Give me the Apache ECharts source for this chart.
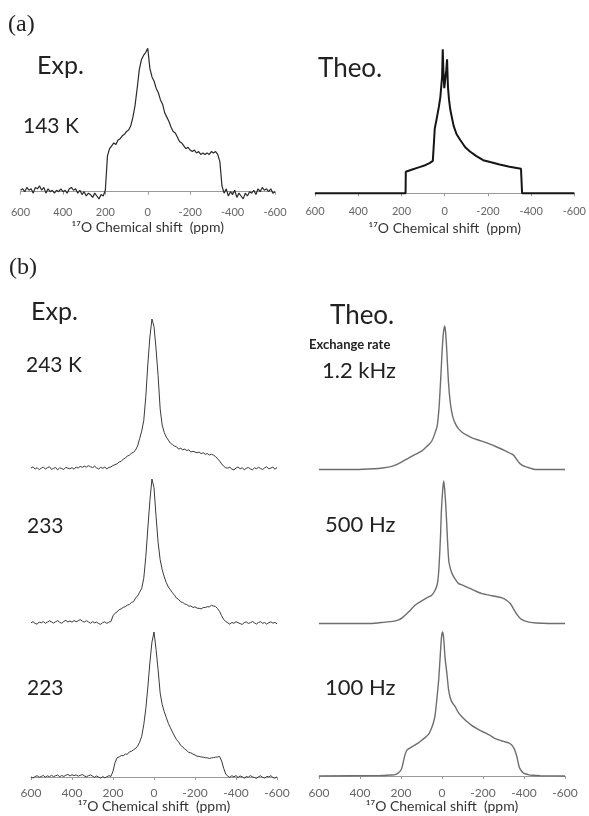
<!DOCTYPE html>
<html>
<head>
<meta charset="utf-8">
<script src="https://cdn.jsdelivr.net/npm/echarts@6/dist/echarts.min.js"></script>
<style>
  html, body { margin: 0; padding: 0; background: #fff; }
  #chart { width: 589px; height: 816px; }
</style>
</head>
<body>
<div id="chart"></div>
<script>
// chemical shift grid (ppm) for the experimental spectra
const PPM = [
  600, 590, 580, 570, 560, 550, 540, 530, 520, 510,
  500, 490, 480, 470, 460, 450, 440, 430, 420, 410,
  400, 390, 380, 370, 360, 350, 340, 330, 320, 310,
  300, 290, 280, 270, 260, 250, 240, 230, 220, 210,
  200, 190, 180, 170, 160, 150, 140, 130, 120, 110,
  100, 90, 80, 70, 60, 50, 40, 30, 20, 10,
  0, -10, -20, -30, -40, -50, -60, -70, -80, -90,
  -100, -110, -120, -130, -140, -150, -160, -170, -180, -190,
  -200, -210, -220, -230, -240, -250, -260, -270, -280, -290,
  -300, -310, -320, -330, -340, -350, -360, -370, -380, -390,
  -400, -410, -420, -430, -440, -450, -460, -470, -480, -490,
  -500, -510, -520, -530, -540, -550, -560, -570, -580, -590,
  -600
]

// experimental intensities (peak = 100)
const EXP_143 = [
  1, 2, 0, 3, 1, 2, -1, 3, 2, 4,
  1, 3, -1, 2, 0, 1, -1, 1, 0, 2,
  0, 1, -1, 2, 3, 1, 2, -1, 1, -2,
  0, -3, -1, -2, -4, -1, -3, -5, -2, -3,
  1, 25, 30, 32, 34, 33, 36, 37, 39, 40,
  42, 43, 46, 52, 60, 72, 85, 92, 95, 97,
  100, 86, 80, 77, 72, 69, 64, 61, 55, 52,
  49, 45, 42, 41, 38, 35, 34, 32, 30, 31,
  29, 28, 29, 27, 28, 26, 27, 26, 27, 26,
  28, 27, 28, 26, 21, 4, -1, 2, -3, 0,
  -2, 1, -4, -1, -3, -5, -1, -3, 0, -1,
  1, -2, 2, 0, 3, 1, 2, 0, 2, -1,
  0
]
const EXP_243 = [
  0.3, 1.1, -0.4, 0.6, -0.8, 0.2, 0.9, -0.3, 0.5, 1.2,
  -0.6, 0.1, 0.7, -0.9, 0.4, 0.0, -0.7, 0.8, 0.2, -0.2,
  0.6, -0.5, 1.0, 0.3, 1.4, 0.8, 1.6, 0.9, 1.9, 1.2,
  0.6, 1.5, 0.4, -0.3, 0.8, 0.1, 0.9, -0.2, 0.7, 1.1,
  2, 2.6, 3.1, 4.4, 4.8, 6.3, 6.9, 8.4, 8.8, 10.3,
  10.8, 12.4, 15, 20, 25, 32, 48, 70, 88, 100,
  95, 80, 62, 40, 29, 24, 21, 19, 17, 16,
  15, 14.5, 13, 13.5, 12.5, 13, 12, 12.5, 11, 11.5,
  11, 10.5, 11, 10, 10.5, 9.5, 10, 9, 9.5, 9,
  8, 6.5, 5, 3, 1.5, 0.5, 0.2, 0.9, -0.4, -0.9,
  0.3, 1.0, -0.2, 0.5, -0.8, 0.1, 0.7, -0.3, -0.9, 0.4,
  -0.1, 0.8, 0.0, -0.7, 0.5, 1.1, -0.2, 0.3, 0.9, -0.4,
  0.6
]
const EXP_233 = [
  0.2, 0.9, -0.3, -0.8, 0.7, 0.1, 1.0, -0.2, 0.6, 1.5,
  0.8, -0.1, 0.9, 1.6, 0.5, -0.2, 1.1, 1.8, 0.7, 1.4,
  0.6, 1.7, 0.9, 1.5, 2.4, 1.3, 0.6, 1.6, 0.8, -0.2,
  0.9, 0.1, 0.6, -0.4, -0.9, 0.3, 0.8, -0.3, 0.6, 1.0,
  5, 6.8, 7.7, 9.3, 9.8, 10.9, 11.3, 12.4, 12.8, 14.3,
  14.8, 17.3, 18.8, 21.4, 24, 31, 46, 66, 85, 100,
  94, 74, 56, 44, 37, 32, 28, 25, 23, 21,
  19.3, 17.2, 16.4, 14.7, 14.3, 13.2, 12.8, 11.7, 11.8, 10.8,
  11.2, 10.3, 10.2, 9.8, 10.7, 10.8, 11.3, 11.2, 12.3, 11.8,
  11.5, 10, 8, 5, 2.5, 1, 0.1, -0.8, 0.4, -0.2,
  0.9, 0.2, -0.4, -1.0, 0.3, 0.8, -0.3, 0.2, 1.0, 0.1,
  -0.7, 0.4, 0.9, -0.2, 0.3, -0.8, 0.2, 0.8, -0.1, 0.4,
  -0.6
]
const EXP_223 = [
  0.1, -0.7, 0.3, 0.9, -0.2, 0.4, 1.0, -0.1, 0.8, 0.2,
  1.1, 0.3, 0.9, 1.3, 0.2, 1.0, 0.4, 1.2, 1.8, 0.7,
  1.6, 0.9, 1.5, 0.6, 1.1, 1.7, 0.8, 0.1, 0.9, 1.4,
  0.6, -0.2, 0.7, 0.0, -0.8, 0.3, -0.6, 0.2, 0.9, 0.4,
  4, 10, 13.3, 13.8, 14.8, 14.7, 15.8, 15.7, 17.3, 17.7,
  18.8, 19.7, 21.3, 24, 28, 36, 47, 62, 79, 93,
  100, 88, 74, 58, 50, 45, 41, 37, 34, 31,
  28.3, 25.7, 24.2, 21.8, 20.8, 19.2, 18.3, 16.8, 16.7, 15.8,
  15.2, 14.3, 14.2, 13.8, 13.7, 13.3, 13.2, 12.8, 13.2, 13.3,
  13.7, 13.8, 14.2, 11, 6, 2, 0.5, -0.2, 0.9, 0.1,
  1.0, -0.3, 0.7, 0.2, -0.8, 0.3, -0.1, 0.9, 0.2, -0.4,
  -0.9, 0.3, 0.8, -0.2, -0.7, 0.4, 0.1, 0.9, -0.3, -0.8,
  0.2
]

// simulated spectra as [ppm, intensity]
const THEO_A = [
  [600, 0], [181, 0], [180, 15], [150, 16.5], [120, 18], [90, 19.5], [70, 21], [55, 22.5],
  [50, 23], [49, 37], [46, 45], [38, 51], [27, 60], [20, 67], [12, 81], [9, 100], [6, 85],
  [2, 73], [-2, 74], [-7, 85], [-11, 93], [-15, 74], [-20, 65], [-26, 58], [-41, 47],
  [-55, 41], [-72, 37], [-95, 32], [-117, 29], [-145, 26], [-178, 23], [-215, 21.5],
  [-254, 20], [-300, 18.5], [-353, 17], [-357, 17], [-358, 0], [-600, 0]
]
const THEO_1200 = [
  [600, 0], [420, 0], [330, 0.5], [290, 1], [250, 2], [228, 3], [200, 5], [163, 8],
  [130, 10.5], [98, 13], [75, 16], [60, 18], [49, 20], [35, 25], [24, 30], [18, 37],
  [13, 46], [6, 64], [0, 81], [-6, 94], [-13, 100], [-18, 95], [-24, 81], [-32, 60],
  [-41, 46], [-52, 37], [-65, 32], [-80, 28.5], [-98, 26], [-120, 24], [-146, 22],
  [-190, 20], [-228, 18], [-270, 15.5], [-309, 13], [-330, 11.5], [-349, 10], [-362, 7.5],
  [-374, 5], [-390, 3], [-406, 2], [-430, 1], [-455, 0], [-600, 0]
]
const THEO_500 = [
  [600, 0], [350, 0], [276, 1], [240, 1.5], [211, 2.5], [190, 4.5], [171, 7], [150, 10],
  [138, 12], [120, 14], [98, 16], [75, 18], [60, 19], [49, 20], [35, 23], [24, 27],
  [18, 33], [13, 44], [7, 62], [3, 79], [-3, 93], [-8, 100], [-13, 94], [-20, 79],
  [-27, 58], [-33, 44], [-40, 39], [-49, 35], [-65, 31], [-81, 28], [-100, 27],
  [-130, 25], [-160, 23], [-195, 21], [-245, 19.5], [-293, 18], [-318, 16], [-333, 14],
  [-346, 11], [-358, 8], [-370, 5.5], [-382, 3.5], [-400, 2], [-423, 1], [-460, 0.3],
  [-520, 0], [-600, 0]
]
const THEO_100 = [
  [600, 0], [300, 0.3], [250, 0.7], [228, 1], [215, 2], [203, 3.5], [195, 6], [187, 11],
  [180, 15], [171, 18], [155, 19.5], [138, 21], [115, 23], [98, 25], [80, 27], [65, 29],
  [49, 34], [40, 38], [33, 43], [24, 55], [16, 67], [8, 85], [2, 97], [-3, 100], [-8, 96],
  [-15, 82], [-24, 71], [-32, 60], [-41, 54], [-50, 51], [-65, 48], [-80, 44], [-98, 41],
  [-120, 38], [-146, 35], [-170, 33], [-195, 31], [-230, 28.5], [-260, 26], [-300, 24],
  [-325, 23], [-340, 21.5], [-352, 19], [-360, 16], [-366, 13], [-372, 9], [-377, 6],
  [-385, 4], [-398, 2], [-420, 1], [-440, 0.5], [-480, 0.2], [-600, 0]
]

const AXIS_NAME = '¹⁷O Chemical shift  (ppm)'
const FONT = 'Lato, "Open Sans", sans-serif'

const pairs = (arr) => PPM.map((p, i) => [p, arr[i]])

// one panel = grid + x axis + y axis + series
const panels = [
  { box: [20.5, 48.3, 254.5, 143.4], axis: { offset: 10, gap: 19, size: 11 }, data: pairs(EXP_143), color: '#2a2a2a', width: 1.2 },
  { box: [315, 49.3, 263, 144], axis: { offset: 8, gap: 20, size: 11 }, data: THEO_A, color: '#151515', width: 2 },
  { box: [31, 319, 246, 149.5], data: pairs(EXP_243), color: '#3a3a3a', width: 1 },
  { box: [31, 479, 246, 144], data: pairs(EXP_233), color: '#3a3a3a', width: 1 },
  { box: [31, 632, 246, 145], axis: { offset: 5, gap: 16, size: 12 }, data: pairs(EXP_223), color: '#3a3a3a', width: 1 },
  { box: [319, 326, 246, 143.5], data: THEO_1200, color: '#6e6e6e', width: 1.4, smooth: 0.25 },
  { box: [319, 481, 246, 142.5], data: THEO_500, color: '#6e6e6e', width: 1.4, smooth: 0.25 },
  { box: [319, 632, 246, 144], axis: { offset: 6, gap: 16, size: 12 }, data: THEO_100, color: '#6e6e6e', width: 1.4, smooth: 0.25 },
]

const labels = [
  { text: '(a)', x: 8, y: 25, font: '24px "Liberation Serif", serif' },
  { text: '(b)', x: 9, y: 268, font: '24px "Liberation Serif", serif' },
  { text: 'Exp.', x: 37, y: 66, font: '25px ' + FONT },
  { text: '143 K', x: 23, y: 126, font: '21px ' + FONT },
  { text: 'Theo.', x: 318, y: 69, font: '26px ' + FONT },
  { text: 'Exp.', x: 31, y: 312, font: '25px ' + FONT },
  { text: '243 K', x: 26, y: 365, font: '21px ' + FONT },
  { text: '233', x: 27, y: 526, font: '21px ' + FONT },
  { text: '223', x: 27, y: 688, font: '21px ' + FONT },
  { text: 'Theo.', x: 330, y: 316, font: '26px ' + FONT },
  { text: 'Exchange rate', x: 309, y: 345, font: 'bold 13px ' + FONT },
  { text: '1.2 kHz', x: 322, y: 371, font: '22px ' + FONT },
  { text: '500 Hz', x: 325, y: 525, font: '22px ' + FONT },
  { text: '100 Hz', x: 325, y: 688, font: '22px ' + FONT },
]

const chart = echarts.init(document.getElementById('chart'), null, { renderer: 'canvas' })

chart.setOption({
  backgroundColor: '#fff',
  animation: false,
  grid: panels.map(p => ({ left: p.box[0], top: p.box[1], width: p.box[2], height: p.box[3] })),
  xAxis: panels.map((p, i) => ({
    gridIndex: i,
    type: 'value',
    inverse: true,
    min: -600,
    max: 600,
    interval: 200,
    show: !!p.axis,
    offset: p.axis ? p.axis.offset : 0,
    name: p.axis ? AXIS_NAME : '',
    nameLocation: 'middle',
    nameGap: p.axis ? p.axis.gap : 0,
    nameTextStyle: { color: '#333', fontSize: 14, fontFamily: FONT },
    axisLine: { show: true, lineStyle: { color: '#9a9a9a', width: 1 } },
    axisTick: { show: true, length: 3, lineStyle: { color: '#9a9a9a' } },
    axisLabel: { color: '#666', fontSize: p.axis ? p.axis.size : 11, margin: 5, fontFamily: FONT },
    splitLine: { show: false },
  })),
  yAxis: panels.map((p, i) => ({
    gridIndex: i,
    type: 'value',
    min: 0,
    max: 100,
    show: false,
    splitLine: { show: false },
  })),
  series: panels.map((p, i) => ({
    type: 'line',
    xAxisIndex: i,
    yAxisIndex: i,
    data: p.data,
    showSymbol: false,
    smooth: p.smooth || false,
    clip: false,
    lineStyle: { color: p.color, width: p.width },
  })),
  graphic: labels.map(l => ({
    type: 'text',
    x: l.x,
    y: l.y,
    style: { text: l.text, font: l.font, fill: '#222', verticalAlign: 'middle' },
  })),
})
</script>
</body>
</html>
